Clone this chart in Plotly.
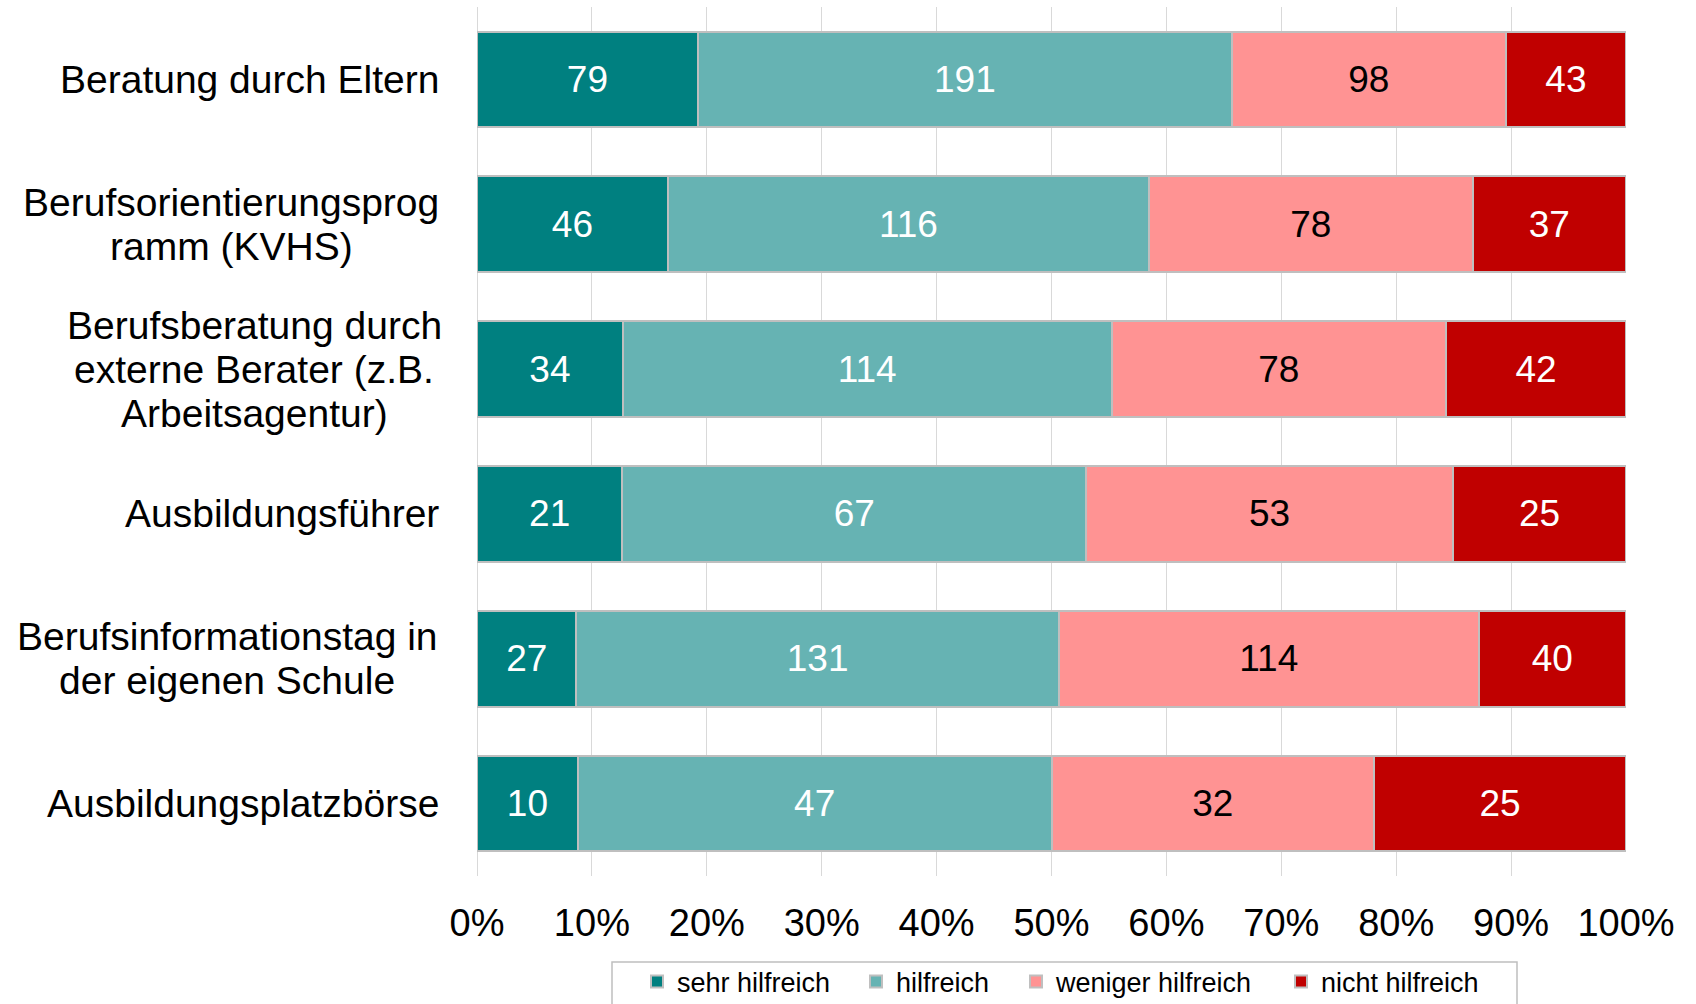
import plotly.graph_objects as go

categories = [
    "Beratung durch Eltern",
    "Berufsorientierungsprog<br>ramm (KVHS)",
    "Berufsberatung durch<br>externe Berater (z.B.<br>Arbeitsagentur)",
    "Ausbildungsführer",
    "Berufsinformationstag in<br>der eigenen Schule",
    "Ausbildungsplatzbörse",
]
series_names = ["sehr hilfreich", "hilfreich", "weniger hilfreich", "nicht hilfreich"]
sehr_hilfreich = [79, 46, 34, 21, 27, 10]
hilfreich = [191, 116, 114, 67, 131, 47]
weniger_hilfreich = [98, 78, 78, 53, 114, 32]
nicht_hilfreich = [43, 37, 42, 25, 40, 25]
tick_values = [0, 10, 20, 30, 40, 50, 60, 70, 80, 90, 100]
tick_labels = ["0%", "10%", "20%", "30%", "40%", "50%", "60%", "70%", "80%", "90%", "100%"]

series_values = [sehr_hilfreich, hilfreich, weniger_hilfreich, nicht_hilfreich]
colors = ["#008080", "#66B3B3", "#FF9393", "#C00000"]
text_colors = ["white", "white", "black", "white"]

W, H = 1696, 1004
L, R, T, B = 477, 1626, 7, 876
FONT = "Liberation Sans, Arial, sans-serif"

fig = go.Figure()
legend_names = ["legend", "legend2", "legend3", "legend4"]
for name, vals, col, tcol, lg in zip(series_names, series_values, colors, text_colors, legend_names):
    fig.add_trace(go.Bar(
        y=categories, x=vals, name=name, orientation="h",
        marker=dict(color=col, line=dict(color="#BFBFBF", width=2)),
        text=[str(v) for v in vals], textposition="inside",
        insidetextanchor="middle", textangle=0, constraintext="none",
        textfont=dict(color=tcol, size=37, family=FONT),
        legend=lg,
    ))

# category labels: one annotation per line, lines centred within each label block
label_centers_px = {1: 231, 2: 254, 4: 227}  # horizontal centre of multi-line blocks
LINE_STEP = 44
annotations = []
for i, c in enumerate(categories):
    lines = c.split("<br>")
    n = len(lines)
    for j, line in enumerate(lines):
        shift = -(j - (n - 1) / 2) * LINE_STEP
        if n == 1:
            annotations.append(dict(
                x=(441 - L) / (R - L), xref="paper", y=c, yref="y",
                xanchor="right", yanchor="middle", yshift=shift,
                text=line, showarrow=False,
                font=dict(size=39, family=FONT, color="black")))
        else:
            annotations.append(dict(
                x=(label_centers_px[i] - L) / (R - L), xref="paper", y=c, yref="y",
                xanchor="center", yanchor="middle", yshift=shift,
                text=line, showarrow=False,
                font=dict(size=39, family=FONT, color="black")))

text_starts = [677, 896, 1056, 1321]
legend_layouts = {}
for lg, ts in zip(legend_names, text_starts):
    legend_layouts[lg] = dict(
        xref="container", yref="container",
        x=(ts - 40) / W, y=1 - 982 / H, xanchor="left", yanchor="middle",
        orientation="h", font=dict(size=27, family=FONT, color="black"),
        bgcolor="rgba(0,0,0,0)", borderwidth=0, itemwidth=30,
    )

fig.update_layout(
    width=W, height=H,
    margin=dict(l=L, r=W - R, t=T, b=H - B, autoexpand=False),
    barmode="stack", barnorm="percent", bargap=0.34,
    plot_bgcolor="white", paper_bgcolor="white",
    showlegend=True,
    annotations=annotations,
    shapes=[dict(type="rect", xref="paper", yref="paper",
                 x0=(612 - L) / (R - L), x1=(1517 - L) / (R - L),
                 y0=(B - 962) / (B - T), y1=(B - 1012) / (B - T),
                 line=dict(color="#BFBFBF", width=1.5), fillcolor="rgba(0,0,0,0)")],
    **legend_layouts,
)
fig.update_xaxes(
    range=[0, 100], tickvals=tick_values, ticktext=tick_labels,
    showgrid=True, gridcolor="#D9D9D9", gridwidth=1,
    zeroline=True, zerolinecolor="#D9D9D9", zerolinewidth=1, showline=False,
    ticks="outside", ticklen=13, tickcolor="rgba(0,0,0,0)",
    tickfont=dict(size=38, family=FONT, color="black"),
)
fig.update_yaxes(autorange="reversed", showticklabels=False, showgrid=False,
                 zeroline=False, showline=False)

fig.write_html("out.html", config={"displayModeBar": False},
               post_script="document.body.style.margin='0px';")
